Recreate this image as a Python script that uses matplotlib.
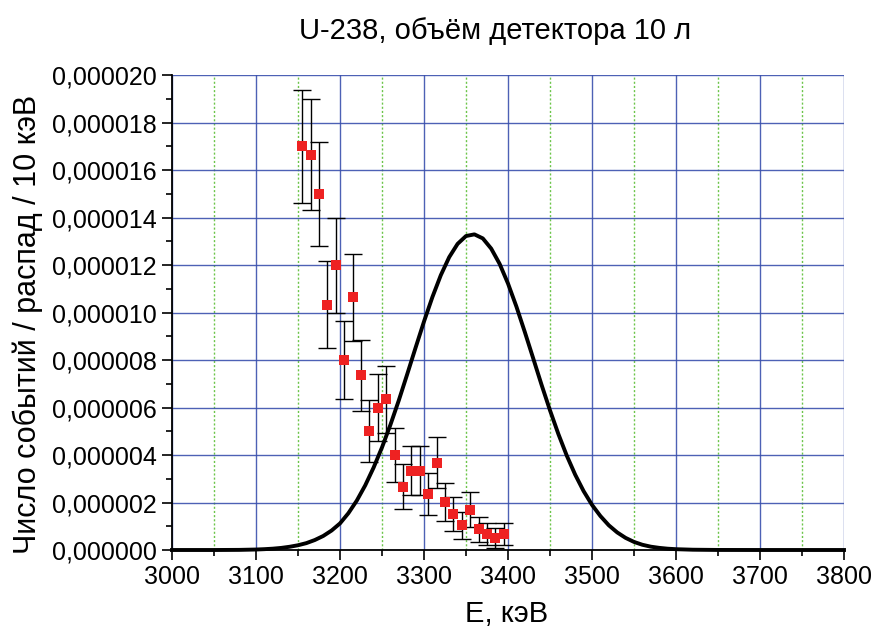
import matplotlib
matplotlib.use("Agg")
import matplotlib.pyplot as plt
from matplotlib.ticker import MultipleLocator, FuncFormatter

plt.rcParams['font.family'] = ['Liberation Sans', 'DejaVu Sans']

# Measured points (energy, keV) and counts per decay per 10 keV
energy = [3155, 3165, 3175, 3185, 3195, 3205, 3215, 3225, 3235, 3245,
          3255, 3265, 3275, 3285, 3295, 3305, 3315, 3325, 3335, 3345,
          3355, 3365, 3375, 3385, 3395]
counts = [17.0, 16.65, 15.0, 10.32, 12.0, 8.0, 10.65, 7.35, 5.0, 6.0,
          6.34, 4.0, 2.67, 3.34, 3.34, 2.36, 3.68, 2.02, 1.52, 1.05,
          1.70, 0.88, 0.68, 0.49, 0.68]
errors = [2.37, 2.35, 2.2, 1.83, 2.0, 1.63, 1.83, 1.5, 1.3, 1.4,
          1.42, 1.14, 0.94, 1.04, 1.04, 0.88, 1.08, 0.8, 0.72, 0.57,
          0.73, 0.53, 0.47, 0.42, 0.47]

# Expected signal curve
curve_e = [3000, 3050, 3080, 3100, 3110, 3120, 3130, 3140, 3150, 3160, 3170,
           3180, 3190, 3200, 3210, 3220, 3230, 3240, 3250, 3260, 3270,
           3280, 3290, 3300, 3310, 3320, 3330, 3340, 3350, 3360, 3370,
           3380, 3390, 3400, 3410, 3420, 3430, 3440, 3450, 3460, 3470,
           3480, 3490, 3500, 3510, 3520, 3530, 3540, 3550, 3560, 3570,
           3580, 3590, 3600, 3620, 3650, 3700, 3800]
curve_v = [0.0, 0.0, 0.005, 0.02, 0.035, 0.056, 0.088, 0.136, 0.2, 0.29, 0.42,
           0.59, 0.82, 1.12, 1.55, 2.08, 2.72, 3.47, 4.32, 5.27, 6.3,
           7.4, 8.52, 9.62, 10.65, 11.57, 12.33, 12.89, 13.22, 13.29, 13.12,
           12.69, 12.05, 11.22, 10.25, 9.18, 8.07, 6.95, 5.88, 4.88, 3.97,
           3.17, 2.48, 1.9, 1.43, 1.04, 0.74, 0.51, 0.34, 0.22, 0.14,
           0.09, 0.055, 0.034, 0.012, 0.002, 0.0, 0.0]

scale = 1e-6
counts_s = [c * scale for c in counts]
errors_s = [e * scale for e in errors]
curve_s = [v * scale for v in curve_v]

fig = plt.figure(figsize=(8.74, 6.31), dpi=100)
ax = fig.add_axes([172/874, 81/631, 672/874, 475/631])

ax.set_xlim(3000, 3800)
ax.set_ylim(0, 2e-5)

ax.xaxis.set_major_locator(MultipleLocator(100))
ax.xaxis.set_minor_locator(MultipleLocator(50))
ax.yaxis.set_major_locator(MultipleLocator(2e-6))
ax.yaxis.set_minor_locator(MultipleLocator(1e-6))
ax.yaxis.set_major_formatter(FuncFormatter(lambda v, p: f"{v:.6f}".replace('.', ',')))

ax.grid(which='major', color='#3a50ad', linewidth=1.0, alpha=0.9)
ax.grid(which='minor', axis='x', color='#6cc54a', linewidth=1.0, linestyle=(0, (1.5, 1.5)))
ax.set_axisbelow(True)

for s in ['top', 'right']:
    ax.spines[s].set_visible(False)
for s in ['left', 'bottom']:
    ax.spines[s].set_linewidth(1.3)

ax.tick_params(which='major', direction='out', length=7, width=1.2, labelsize=18, pad=4)
ax.tick_params(which='minor', direction='out', length=4, width=1.2)

ax.plot(curve_e, curve_s, color='black', linewidth=2.8, zorder=3, clip_on=False)

ax.errorbar(energy, counts_s, yerr=errors_s, fmt='none', ecolor='black',
            elinewidth=1.0, capsize=6.8, capthick=1.0, zorder=4)
ax.plot(energy, counts_s, linestyle='none', marker='s', markersize=7.2,
        color='#ee2222', markeredgewidth=0, zorder=5)

fig.text(495/874, 1 - 39/631, "U-238, объём детектора 10 л", ha='center',
         va='baseline', fontsize=21)
fig.text(507/874, 1 - 622/631, "E, кэВ", ha='center', va='baseline', fontsize=21)
fig.text(28/874, 1 - 324/631, "Число событий / распад / 10 кэВ", ha='center',
         va='center', rotation=90, fontsize=22)

fig.savefig("out.png", dpi=100)
